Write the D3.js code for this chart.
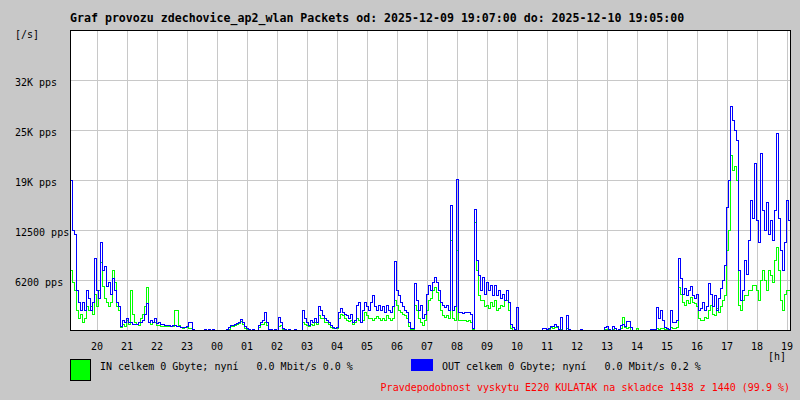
<!DOCTYPE html>
<html><head><meta charset="utf-8">
<script src="https://cdn.jsdelivr.net/npm/d3@7"></script>
<style>
body{margin:0;background:#c8c8c8;}
svg{display:block;}
text{font-family:"DejaVu Sans Mono",monospace;font-size:10px;fill:#000;}
</style>
</head><body>
<svg id="c" width="800" height="400"></svg>
<script>
// ---------- data ----------
const titleText = "Graf provozu zdechovice_ap2_wlan Packets od: 2025-12-09 19:07:00 do: 2025-12-10 19:05:00";
const hourLabels = ["20","21","22","23","00","01","02","03","04","05","06","07","08","09","10","11","12","13","14","15","16","17","18","19"];
const firstHourOffset = 53;      // minutes from 19:07 to 20:00
const totalMinutes = 1440;
const sampleStep = 4;            // minutes between samples
const yTicks = [6250, 12500, 18750, 25000, 31250];
const yTickLabels = ["6200 pps","12500 pps","19K pps","25K pps","32K pps"];
const yMax = 37500;
const legendIn = "IN celkem 0 Gbyte; nyní   0.0 Mbit/s 0.0 %";
const legendOut = "OUT celkem 0 Gbyte; nyní   0.0 Mbit/s 0.2 %";
const footerText = "Pravdepodobnost vyskytu E220 KULATAK na skladce 1438 z 1440 (99.9 %)";

// packets/s, one value per 4 minutes starting 19:07
const outValues = [
18750,12500,12000,5000,3500,2500,3500,2500,5000,4000,
2500,3500,9000,5000,4000,11000,7500,8000,5500,6000,
4500,6500,5000,3500,3000,500,1250,1000,1500,1000,
1000,750,750,750,1000,1000,1250,2000,3375,1000,
1250,1000,1500,875,1000,750,750,625,625,625,
500,625,625,500,500,375,375,375,500,1000,
1000,125,0,0,0,0,0,125,0,125,
0,125,0,0,0,0,0,0,125,375,
625,625,750,875,1000,1375,1000,500,250,125,
0,125,0,0,625,1000,1250,2250,1000,125,
125,0,125,0,1625,1000,250,125,0,125,
0,0,125,0,0,0,2500,1500,1000,625,
1250,1000,1500,1000,3000,2500,1875,1500,1250,1000,
625,375,250,375,2250,2750,2250,2000,1875,1500,
2000,1000,1250,3125,3500,1000,2500,3500,3000,2500,
3500,4375,3000,2500,3125,2500,3000,2250,3125,2500,
2250,3000,8625,5000,4375,3500,3000,2500,2250,1000,
250,250,5875,3750,2500,3125,1500,2000,4500,5625,
5000,6000,6625,6000,5000,3500,3125,2875,3125,2500,
15625,2500,3000,18875,2250,2250,2125,2250,2250,2250,
2000,250,15125,8750,6875,5000,6625,4500,6000,5000,
5625,4375,5625,4375,5000,4000,4500,3750,5000,3500,
750,375,125,2875,0,0,0,0,0,0,
0,0,0,0,0,0,250,250,125,250,
500,500,750,500,125,1625,0,0,1875,125,
0,0,0,0,0,125,0,0,0,0,
0,0,0,0,0,0,0,375,500,125,
0,500,250,0,125,625,750,500,1125,1125,
375,0,0,0,0,0,0,0,0,0,
125,125,125,2875,1500,2500,1250,375,250,125,
2500,1000,1000,1250,9000,6500,4500,5250,4375,5000,
5500,4375,4000,4500,2500,2750,3500,2500,3000,5875,
4500,3000,4375,2500,4000,5250,6250,8125,15375,18750,
28000,26250,25000,23750,7500,3750,5000,8750,7000,11250,
16250,14000,20875,13750,11000,22125,15000,12500,16000,12000,
13750,11250,15000,24625,14000,10000,7500,11000,16250,13750,
13750];
const inValues = [
7500,6000,5000,2500,1500,2000,1000,1500,3000,2500,
3000,2000,4500,3000,5000,8500,5500,4000,3500,3000,
3500,7500,6000,3000,2500,375,750,500,1250,750,
5000,2000,1000,750,625,1500,2000,3000,5375,1000,
750,1000,1000,625,625,500,500,500,500,500,
500,500,2500,2500,625,375,250,375,375,250,
250,0,0,0,0,0,0,0,0,0,
0,0,0,0,0,0,0,0,0,125,
500,500,625,750,875,1125,750,250,125,0,
0,0,0,0,375,750,750,1000,625,0,
0,0,0,0,500,625,125,0,0,0,
0,0,0,0,0,0,1000,750,625,500,
750,625,1000,750,1875,1500,1500,1000,1000,750,
375,250,250,250,1500,2000,1875,1500,1250,1125,
1250,750,1000,1500,1250,1000,1250,2250,1875,1500,
1500,1250,1500,1750,1500,1250,1500,1250,1875,1500,
1250,1500,3750,3125,2500,2250,2000,1875,1500,500,
125,125,3125,2500,1500,1000,625,1250,2500,3750,
4000,5000,5375,4750,3750,2500,1875,1625,1875,1500,
11250,1500,1250,10000,1250,1250,1250,1250,1125,1250,
1000,125,13500,7500,4375,3750,3750,3000,3125,2750,
3500,3000,3750,2500,2750,3125,3000,3750,3750,2500,
250,0,0,0,0,0,0,0,0,0,
0,0,0,0,0,0,0,0,0,125,
375,250,375,375,125,125,0,0,250,0,
0,0,0,0,0,0,0,0,0,0,
0,0,0,0,0,0,0,125,125,0,
0,125,0,0,0,250,1625,375,250,375,
0,0,0,250,0,0,0,0,0,0,
0,0,0,250,125,250,250,125,125,0,
375,250,250,375,5375,4500,3500,3125,3750,3375,
4125,3500,3375,3000,1500,1250,1250,1625,1500,2500,
3125,2000,1875,2750,2250,3000,3750,4375,10000,12500,
21875,20000,20500,18750,3125,2500,3750,4375,4375,5000,
5000,5625,5625,5000,3750,6250,7500,6250,5000,7500,
6875,6000,8750,10375,7500,3750,2500,4500,5000,5000,
5000];

// ---------- layout ----------
const L = 70, T = 30, W = 720, H = 300;
const svg = d3.select("#c");
const x = d3.scaleLinear().domain([0, totalMinutes]).range([L, L + W]);
const y = d3.scaleLinear().domain([0, yMax]).range([T + H, T]);

svg.append("rect").attr("x", 0).attr("y", 0).attr("width", 800).attr("height", 400).attr("fill", "#c8c8c8");
svg.append("rect").attr("x", L).attr("y", T).attr("width", W).attr("height", H).attr("fill", "#fff");

// title
svg.append("text").attr("x", 70).attr("y", 22)
  .style("font-weight", "bold").style("font-size", "11.6px")
  .text(titleText);
svg.append("text").attr("x", 15).attr("y", 38).text("[/s]");

// y axis (gridlines + labels)
const yAxis = d3.axisLeft(y).tickValues(yTicks)
  .tickFormat((d, i) => yTickLabels[i]).tickSize(-W).tickPadding(0);
const gy = svg.append("g").attr("transform", `translate(${L},0)`).call(yAxis);
gy.select(".domain").remove();
gy.selectAll(".tick line").attr("stroke", "#c8c8c8").attr("shape-rendering", "crispEdges");
gy.selectAll(".tick text").attr("x", 15 - L).attr("dy", null).attr("y", 5)
  .attr("text-anchor", "start").style("font-family", "DejaVu Sans Mono").style("font-size", "10px");

// x axis (hour gridlines + labels)
const hourTicks = hourLabels.map((h, i) => firstHourOffset + 60 * i);
const xAxis = d3.axisBottom(x).tickValues(hourTicks)
  .tickFormat((d, i) => hourLabels[i]).tickSize(-H).tickPadding(0);
const gx = svg.append("g").attr("transform", `translate(0,${T + H})`).call(xAxis);
gx.select(".domain").remove();
gx.selectAll(".tick line").attr("stroke", "#c8c8c8").attr("shape-rendering", "crispEdges");
gx.selectAll(".tick text").attr("dy", null).attr("y", 20)
  .style("font-family", "DejaVu Sans Mono").style("font-size", "10px");
svg.append("text").attr("x", 786).attr("y", 360).attr("text-anchor", "end").text("[h]");

// series
const mkData = vals => vals.map((v, i) => ({t: i * sampleStep, v}));
const line = d3.line().x(d => x(d.t)).y(d => y(d.v)).curve(d3.curveStepAfter);
svg.append("clipPath").attr("id", "pc").append("rect")
  .attr("x", L).attr("y", T).attr("width", W).attr("height", H);
svg.append("path").datum(mkData(inValues)).attr("d", line)
  .attr("fill", "none").attr("stroke", "#00ff00").attr("stroke-width", 1)
  .attr("shape-rendering", "crispEdges").attr("clip-path", "url(#pc)");
svg.append("path").datum(mkData(outValues)).attr("d", line)
  .attr("fill", "none").attr("stroke", "#0000ff").attr("stroke-width", 1)
  .attr("shape-rendering", "crispEdges").attr("clip-path", "url(#pc)");

// border
svg.append("rect").attr("x", L + 0.5).attr("y", T + 0.5).attr("width", W).attr("height", H)
  .attr("fill", "none").attr("stroke", "#000").attr("stroke-width", 1).attr("shape-rendering", "crispEdges");

// legend
svg.append("rect").attr("x", 70.5).attr("y", 359.5).attr("width", 20).attr("height", 21)
  .attr("fill", "#00ff00").attr("stroke", "#000").attr("shape-rendering", "crispEdges");
svg.append("text").attr("x", 100).attr("y", 370).attr("xml:space", "preserve")
  .style("white-space", "pre").text(legendIn);
svg.append("rect").attr("x", 411).attr("y", 359).attr("width", 22).attr("height", 12)
  .attr("fill", "#0000ff");
svg.append("text").attr("x", 442).attr("y", 370).attr("xml:space", "preserve")
  .style("white-space", "pre").text(legendOut);
svg.append("text").attr("x", 790).attr("y", 391).attr("text-anchor", "end")
  .style("fill", "#ff0000").text(footerText);
</script>
</body></html>
